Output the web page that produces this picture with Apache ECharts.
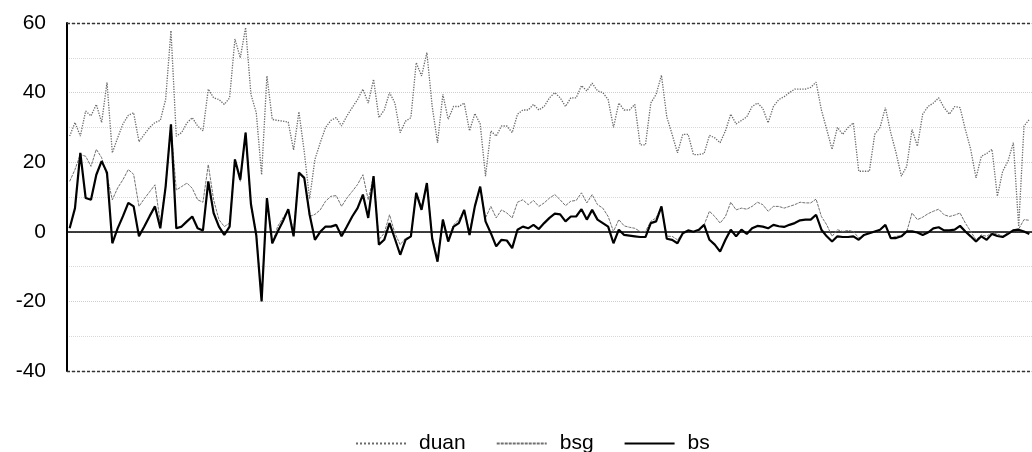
<!DOCTYPE html>
<html>
<head>
<meta charset="utf-8">
<script src="https://cdn.jsdelivr.net/npm/echarts@6/dist/echarts.min.js"></script>
<style>
html,body{margin:0;padding:0;background:#fff;}
#chart{width:1032px;height:452px;}
</style>
</head>
<body>
<div id="chart"></div>
<script>
var seriesNames = ['duan', 'bsg', 'bs'];
var yTicks = [-40, -20, 0, 20, 40, 60];

var duan = [27.5,31.4,27.5,34.7,33.3,36.6,31.4,42.9,22.7,27,31,33.5,34.2,25.9,28,30,31.4,32,38,57.8,
27.5,28.5,31.3,32.8,30.4,29,41,38.5,38,36.6,38.5,55.4,50,58.7,39.5,34.2,16.4,44.8,32.3,32,
31.8,31.5,23.5,34.5,23,9.5,20.8,25.6,30,32,32.8,30.4,33.3,35.7,38,41,37,43.8,32.8,35,
40,37,28.5,31.8,32.8,48.6,44.8,51.5,36,25.6,39.5,32.3,36,36,37,29,34,31,16,29,
27.5,30.4,30.4,28.5,33.8,35,35,36.6,35,36,38.5,40,38.5,36,38.5,38.5,42,40.5,42.7,40.5,
40,38,30,37,35,35,36.6,25,25,37,39.5,45,33,28,22.7,28,28,22.2,22.2,22.5,
27.7,27,25.6,29,33.8,31,32,33,36,37,35.5,31.3,36,38,38.8,40,41,41,41,41.5,
43,35,29.4,23.7,30,28,30,31.3,17.4,17.4,17.4,28,30,35.7,28.5,22.7,16,18.8,29.4,24.6,
33.8,36,37,38.5,35.7,33.8,36,35.7,29.4,23.7,15.5,21.7,22.5,23.7,10.2,17.4,20.3,25.6,1.5,30.4,
32.3];

var bsg = [14.5,17.9,22.2,21.7,18.8,23.7,21.3,16,9.2,12.6,15,17.9,16.5,7.3,9.5,11.5,13.5,2.5,13,30.4,
12,13,14,12.5,9.2,8.5,19.3,9.2,3.5,1.5,2.5,20.8,14.5,28.5,7.3,0,-19.5,9.2,-3.3,1.5,
4,6.3,0,17,15.5,4.4,5,6.3,8.8,10.2,10.4,7.3,9.7,11.6,13.6,16.4,9.2,16,-2.3,-0.4,
4.9,-0.4,-3.7,-1.8,-1.5,11.2,7.3,14,-1.5,-8,3.5,-2,2,3.5,6.3,0,7.5,13,4,7.3,
4,6.3,5.4,4,8.5,9.2,7.8,9,7.3,8.3,9.7,10.7,9.2,7.5,8.8,9,11.2,8.3,10.7,7.8,
6.8,4.4,0.1,3.5,1.7,1.3,1,0.1,0.1,3,4,7.3,-1.3,-1.3,-2.3,-0.4,0.4,0,0,2,
5.9,4.4,2.5,4.4,8.5,6.3,6.8,6.5,7.3,8.5,7.8,5.9,7.3,7.3,6.8,7.3,7.8,8.5,8.3,8.3,
9.4,4.4,2,-1.3,0.6,0.1,0.4,0.1,-1.8,-0.9,-0.4,0.1,0.6,2,-1.8,-1.3,-1.1,0,5.4,3.5,
4.2,5.2,5.9,6.5,4.9,4.4,4.8,5.4,2.5,0.1,-2.3,-0.9,-1.3,-0.2,-0.6,-1.3,-0.2,0.6,0.8,3.5,
3.3];

var bs = [1,6.8,22.7,9.7,9.2,16.4,20.3,17,-3.3,1,4.5,8.3,7.3,-1.3,1.5,4.5,7.3,1,13,30.9,
1,1.5,3,4.4,1,0.4,14.5,5.4,1.5,-0.9,1.5,20.8,15,28.5,8,-1,-20,9.7,-3.3,0,
3,6.5,-1.3,17,15.5,5,-2.3,0,1.5,1.5,2,-1.3,1.5,4.4,6.8,10.7,4,16,-3.7,-2.3,
2.5,-2,-6.6,-2.3,-1.3,11.2,6.3,14,-2,-8.6,3.5,-2.8,1.5,2.5,6.3,-0.9,7.3,13,3,-0.4,
-4.2,-2.3,-2.5,-4.7,0.6,1.5,1,2,0.8,2.5,4,5.2,5,3,4.4,4.4,6.5,3.5,6.3,3.5,
2.5,1.5,-3.3,0.6,-0.9,-1.1,-1.3,-1.5,-1.5,2.5,3,7.3,-2,-2.3,-3.3,-0.4,0.4,0,0.6,2,
-2.3,-3.7,-5.7,-2.3,0.6,-1.3,0.6,-0.6,1,1.7,1.5,1,2,1.6,1.4,2,2.5,3.3,3.5,3.5,
4.9,0.6,-1.3,-2.8,-1.3,-1.5,-1.5,-1.3,-2.3,-0.9,-0.4,0.1,0.6,2,-1.8,-1.8,-1.3,0.1,0.1,-0.2,
-0.9,-0.2,1,1.3,0.4,0.4,0.6,1.7,0.1,-1.3,-2.8,-1.3,-2.3,-0.6,-1.2,-1.5,-0.6,0.4,0.6,0.1,
-0.6];

var categories = duan.map(function (_, i) { return String(i + 1); });

var chart = echarts.init(document.getElementById('chart'), null, {renderer: 'canvas'});
var font = 'Liberation Sans, Arial, sans-serif';

chart.setOption({
  animation: false,
  backgroundColor: '#ffffff',
  grid: {left: 67, right: 0, top: 23, bottom: 81, containLabel: false},
  legend: {
    data: seriesNames,
    top: 428,
    left: 350,
    itemWidth: 50,
    itemHeight: 10,
    itemGap: 30,
    itemStyle: {opacity: 0},
    textStyle: {fontFamily: font, fontSize: 21, color: '#000', padding: [0, 0, 0, 8]}
  },
  xAxis: {
    type: 'category',
    data: categories,
    boundaryGap: true,
    axisLine: {show: true, onZero: true, lineStyle: {color: '#000', width: 1.5}},
    axisTick: {show: false},
    axisLabel: {show: false},
    splitLine: {show: false}
  },
  yAxis: {
    type: 'value',
    min: yTicks[0],
    max: yTicks[yTicks.length - 1],
    interval: 20,
    axisLine: {show: true, lineStyle: {color: '#000', width: 2}},
    axisTick: {show: false},
    axisLabel: {fontFamily: font, fontSize: 21, color: '#000', margin: 21},
    splitLine: {show: true, lineStyle: {color: '#cfcfcf', type: 'dotted', width: 1}},
    minorTick: {show: false, splitNumber: 2},
    minorSplitLine: {show: true, lineStyle: {color: '#d8d8d8', type: 'dotted', width: 1}}
  },
  series: [
    {
      name: seriesNames[0],
      type: 'line',
      data: duan,
      symbol: 'none',
      lineStyle: {color: '#6a6a6a', width: 1.3, type: 'dotted'},
      itemStyle: {color: '#6a6a6a'},
      z: 2
    },
    {
      name: seriesNames[1],
      type: 'line',
      data: bsg,
      symbol: 'none',
      lineStyle: {color: '#707070', width: 1, type: [3, 1]},
      itemStyle: {color: '#707070'},
      z: 3
    },
    {
      name: seriesNames[2],
      type: 'line',
      data: bs,
      symbol: 'none',
      lineStyle: {color: '#000000', width: 2.2},
      itemStyle: {color: '#000000'},
      z: 4,
      markLine: {
        silent: true,
        symbol: 'none',
        label: {show: false},
        lineStyle: {color: '#333', type: [3, 2], width: 1.3},
        data: [{yAxis: yTicks[yTicks.length - 1]}, {yAxis: yTicks[0]}]
      }
    }
  ]
});
</script>
</body>
</html>
